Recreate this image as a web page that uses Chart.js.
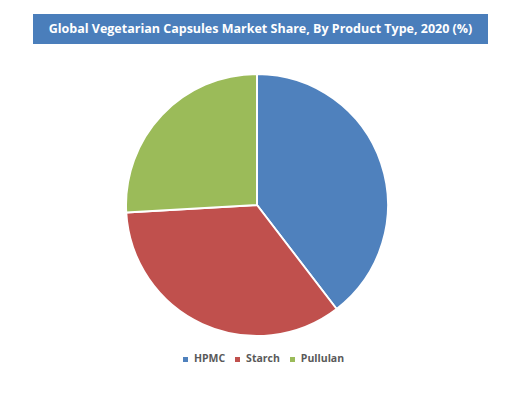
<!DOCTYPE html>
<html><head><meta charset="utf-8">
<script src="https://cdn.jsdelivr.net/npm/chart.js@4"></script>
<style>
body{margin:0;width:527px;height:403px;background:#fff;position:relative;font-family:"Open Sans",sans-serif;overflow:hidden}
#title{position:absolute;left:33px;top:14px;width:455px;height:30px;background:#4a7ebb;color:#fff;font-weight:bold;font-size:12.5px;line-height:30px;text-align:center}
#wrap{position:absolute;left:125px;top:73px;width:264px;height:264px}
#legend{position:absolute;left:0;width:527px;top:351px;text-align:center;font-size:10.5px;font-weight:bold;color:#595959}
#legend span{margin:0 5px}
#legend i{display:inline-block;width:5px;height:5px;margin-right:6px;vertical-align:middle}
</style></head><body>
<div id="title">Global Vegetarian Capsules Market Share, By Product Type, 2020 (%)</div>
<div id="wrap"><canvas id="c" width="264" height="264"></canvas></div>
<div id="legend"></div>
<script>
const categories=["HPMC","Starch","Pullulan"];
const shares=[39.6,34.5,25.9];
const colors=["#4f81bd","#c0504d","#9bbb59"];
new Chart(document.getElementById('c'),{type:'pie',
data:{labels:categories,datasets:[{data:shares,backgroundColor:colors,borderColor:'#fff',borderWidth:2}]},
options:{responsive:false,animation:false,plugins:{legend:{display:false},tooltip:{enabled:false}}}});
document.getElementById('legend').innerHTML=categories.map((c,i)=>`<span><i style="background:${colors[i]}"></i>${c}</span>`).join('');
</script></body></html>
